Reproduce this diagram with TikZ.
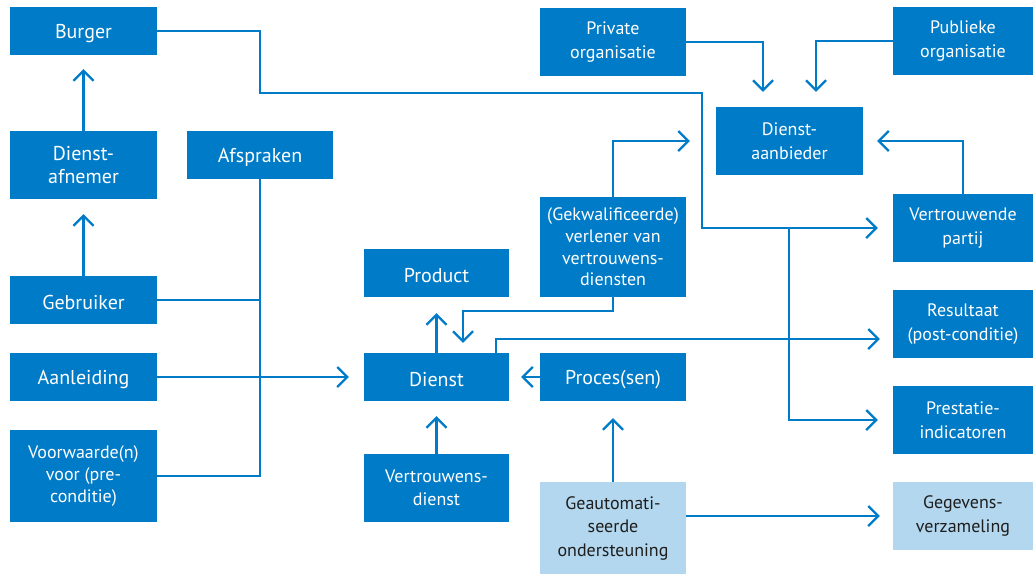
\documentclass[tikz,border=0pt]{standalone}
\usepackage{fontspec}
\setmainfont{PT Sans}
\usetikzlibrary{arrows.meta}
\definecolor{rijkblauw}{HTML}{007BC7}
\definecolor{lichtblauw}{HTML}{B3D7EE}
\definecolor{donkertekst}{HTML}{1E1E1E}
% a taller first line lowers the text block a little inside its box
\newcommand\firstlinestrut[1]{\rule{0pt}{#1}}
\tikzset{
  box/.style={fill=rijkblauw, text=white, inner sep=0pt, align=center,
    font=\fontsize{18}{23.5}\selectfont,
    execute at begin node={\firstlinestrut{17.5pt}}},
  bigtext/.style={font=\fontsize{20}{23.5}\selectfont,
    execute at begin node={\firstlinestrut{19pt}}},
  tighttext/.style={font=\fontsize{18}{21.7}\selectfont,
    execute at begin node={\firstlinestrut{15.5pt}}},
  lightbox/.style={box, fill=lichtblauw, text=donkertekst},
  conn/.style={draw=rijkblauw, line width=2.2pt},
  arr/.style={conn, -{Straight Barb[length=10pt, width=20pt, line width=2.2pt]}},
}
\begin{document}
\begin{tikzpicture}[x=1pt, y=-1pt]
\useasboundingbox (0,0) rectangle (1033,574);

% left column
\node[box, bigtext, minimum width=147pt, minimum height=48pt] (burger) at (83.5,31) {Burger};
\node[box, bigtext, minimum width=147pt, minimum height=68pt] (afnemer) at (83.5,165) {Dienst-\\afnemer};
\node[box, bigtext, minimum width=146pt, minimum height=48pt] (afspraken) at (260,155) {Afspraken};
\node[box, bigtext, minimum width=147pt, minimum height=48pt] (gebruiker) at (83.5,300) {Gebruiker};
\node[box, bigtext, minimum width=147pt, minimum height=48pt] (aanleiding) at (83.5,377) {Aanleiding};
\node[box, tighttext, minimum width=147pt, minimum height=92pt] (voorwaarde) at (83.5,476) {Voorwaarde(n)\\voor (pre-\\conditie)};

% middle columns
\node[box, bigtext, minimum width=145pt, minimum height=48pt] (product) at (436.5,273) {Product};
\node[box, bigtext, minimum width=145pt, minimum height=48pt] (dienst) at (436.5,377) {Dienst};
\node[box, minimum width=145pt, minimum height=68pt] (vdienst) at (436.5,488) {Vertrouwens-\\dienst};
\node[box, minimum width=146pt, minimum height=68pt] (private) at (613,42) {Private\\organisatie};
\node[box, tighttext, minimum width=146pt, minimum height=100pt] (verlener) at (613,247) {(Gekwalificeerde)\\verlener van\\vertrouwens-\\diensten};
\node[box, bigtext, minimum width=146pt, minimum height=48pt] (proces) at (613,377) {Proces(sen)};
\node[lightbox, minimum width=146pt, minimum height=92pt] (geautom) at (613,528) {Geautomati-\\seerde\\ondersteuning};
\node[box, minimum width=147pt, minimum height=68pt] (aanbieder) at (789.5,141) {Dienst-\\aanbieder};

% right column
\node[box, minimum width=140pt, minimum height=68pt] (publieke) at (963,41) {Publieke\\organisatie};
\node[box, minimum width=140pt, minimum height=68pt] (vertrouwende) at (963,228) {Vertrouwende\\partij};
\node[box, minimum width=140pt, minimum height=68pt] (resultaat) at (963,324) {Resultaat\\(post-conditie)};
\node[box, minimum width=140pt, minimum height=68pt] (prestatie) at (963,420) {Prestatie-\\indicatoren};
\node[lightbox, minimum width=140pt, minimum height=68pt] (gegevens) at (963,516) {Gegevens-\\verzameling};

% junctions of the long connector from Burger
\coordinate (j1) at (260,93);
\coordinate (j2) at (702,93);
\coordinate (j3) at (789,228);
\coordinate (vsplit) at (613,311);

% connectors
\draw[arr, shorten >=14pt] (afnemer.north) -- (burger.south);
\draw[arr, shorten >=15pt] (gebruiker.north) -- (afnemer.south);
\draw[conn] (afspraken.south) |- (voorwaarde.east);
\draw[conn] (gebruiker.east) -- (afspraken.south |- gebruiker.east);
\draw[arr, shorten >=15pt] (aanleiding.east) -- (dienst.west);
\draw[arr, shorten >=16pt] (dienst.north) -- (product.south);
\draw[arr, shorten >=15pt] (vdienst.north) -- (dienst.south);
\draw[arr, shorten >=12pt] (proces.west) -- (dienst.east);
\draw[arr, shorten >=17pt] (geautom.north) -- (proces.south);
\draw[arr, shorten >=13pt] (geautom.east |- gegevens.west) -- (gegevens.west);
\draw[arr, shorten >=10pt] (verlener.south) -- (vsplit) -| ([xshift=26.5pt]dienst.north);
\draw[arr, shorten >=26pt] (verlener.north) |- (aanbieder.west);
\draw[arr, shorten >=13pt] ([xshift=-13pt]dienst.north east) |- ([yshift=-15pt]resultaat.west);
\draw[arr, shorten >=15pt] (private.east) -| ([xshift=-26.5pt]aanbieder.north);
\draw[arr, shorten >=15pt] (publieke.west) -| ([xshift=26.5pt]aanbieder.north);
\draw[arr, shorten >=14pt] (vertrouwende.north) |- (aanbieder.east);
\draw[arr, shorten >=15pt] (burger.east) -| (j1) -- (j2) |- (vertrouwende.west);
\draw[arr, shorten >=15pt] (j3) |- (prestatie.west);
\end{tikzpicture}
\end{document}
